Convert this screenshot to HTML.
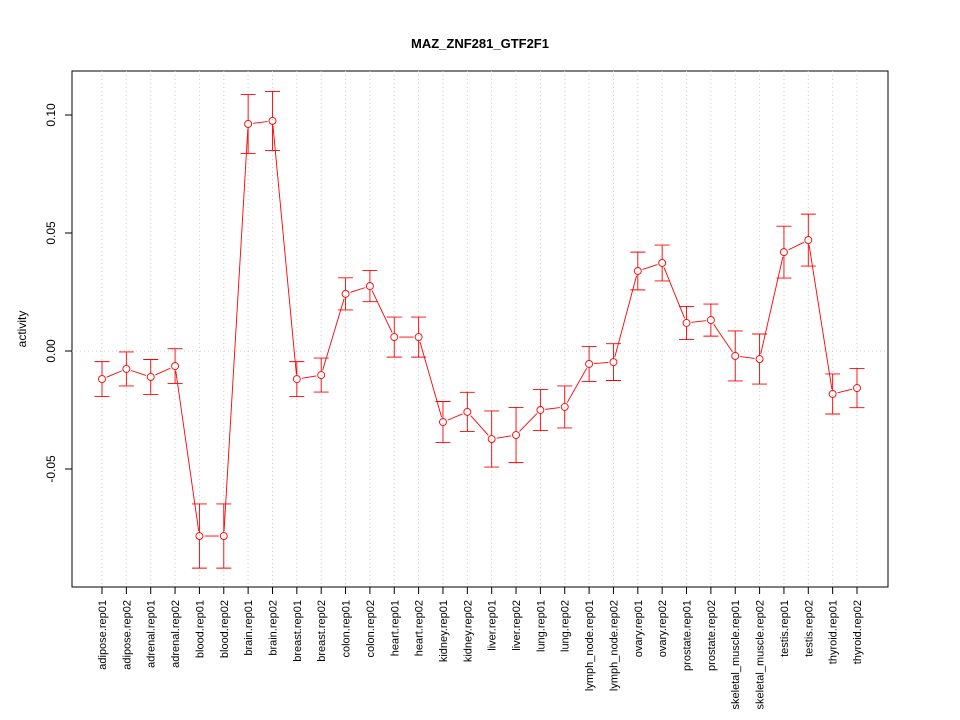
<!DOCTYPE html>
<html><head><meta charset="utf-8"><style>
body{margin:0;background:#fff;}
svg{display:block;font-family:"Liberation Sans",Arial,sans-serif;}
</style></head><body>
<svg id="chart" width="960" height="720">
<text x="480" y="48" text-anchor="middle" font-size="13" font-weight="bold">MAZ_ZNF281_GTF2F1</text>
<rect x="72" y="71" width="816" height="516" fill="none" stroke="#000"/>
<text transform="translate(26,329) rotate(-90)" text-anchor="middle" font-size="12">activity</text>
<g id="grid"></g><g id="axes"></g><g id="series"></g>
</svg>
<script>
const categories=["adipose.rep01","adipose.rep02","adrenal.rep01","adrenal.rep02","blood.rep01","blood.rep02","brain.rep01","brain.rep02","breast.rep01","breast.rep02","colon.rep01","colon.rep02","heart.rep01","heart.rep02","kidney.rep01","kidney.rep02","liver.rep01","liver.rep02","lung.rep01","lung.rep02","lymph_node.rep01","lymph_node.rep02","ovary.rep01","ovary.rep02","prostate.rep01","prostate.rep02","skeletal_muscle.rep01","skeletal_muscle.rep02","testis.rep01","testis.rep02","thyroid.rep01","thyroid.rep02"];
const values=[-0.0119,-0.0076,-0.011,-0.0064,-0.0784,-0.0784,0.0962,0.0975,-0.0119,-0.0102,0.0242,0.0275,0.0059,0.0059,-0.0301,-0.0258,-0.0373,-0.0356,-0.025,-0.0237,-0.0055,-0.0047,0.0339,0.0373,0.0119,0.0131,-0.0021,-0.0034,0.0419,0.047,-0.0182,-0.0157];
const errs=[0.0074,0.0072,0.0074,0.0074,0.0136,0.0136,0.0125,0.0125,0.0074,0.0072,0.0068,0.0066,0.0085,0.0085,0.0087,0.0083,0.0119,0.0117,0.0087,0.0089,0.0074,0.0078,0.008,0.0076,0.007,0.0068,0.0106,0.0106,0.011,0.011,0.0085,0.0083];
const yTicks=[-0.05,0,0.05,0.1];
const yTickLabels=["-0.05","0.00","0.05","0.10"];
const NS="http://www.w3.org/2000/svg";
const x=i=>102+i*(857-102)/(categories.length-1);
const y=v=>351-v*2360;
function mk(tag,attrs,parent,txt){const e=document.createElementNS(NS,tag);for(const k in attrs)e.setAttribute(k,attrs[k]);if(txt!=null)e.textContent=txt;document.getElementById(parent).appendChild(e);return e;}
let g0=mk('line',{x1:72,x2:888,y1:y(0),y2:y(0),stroke:'#ccc','stroke-dasharray':'1,3'},'grid');


yTicks.forEach((t,i)=>{
  let tk=mk('line',{x1:65,x2:72,y1:y(t),y2:y(t),stroke:'#000'},'axes');
  
  
  let lb=mk('text',{transform:`translate(55,${y(t)}) rotate(-90)`,'text-anchor':'middle','font-size':12},'axes',yTickLabels[i]);
  
  
});
categories.forEach((c,i)=>{
  let g=mk('line',{x1:x(i),x2:x(i),y1:71,y2:587,stroke:'#ccc','stroke-dasharray':'1,3'},'grid');
  
  
  let tk=mk('line',{x1:x(i),x2:x(i),y1:587,y2:594,stroke:'#000'},'axes');
  
  
  let lb=mk('text',{transform:`translate(${x(i)+4},600) rotate(-90)`,'text-anchor':'end','font-size':11},'axes',c);
  
  
});
const gap=5;
for(let i=0;i<values.length-1;i++){
  const x1=x(i),y1=y(values[i]),x2=x(i+1),y2=y(values[i+1]);
  const d=Math.hypot(x2-x1,y2-y1);
  if(d<=2*gap) continue;
  const ux=(x2-x1)/d,uy=(y2-y1)/d;
  let s=mk('line',{x1:x1+ux*gap,y1:y1+uy*gap,x2:x2-ux*gap,y2:y2-uy*gap,stroke:'#ff0000','stroke-width':0.9},'series');
  
  
}
values.forEach((v,i)=>{
  const cx=x(i),cy=y(v),t=y(v+errs[i]),b=y(v-errs[i]);
  let e=mk('path',{d:`M${cx},${t}V${cy-3.5}M${cx},${cy+3.5}V${b}M${cx-7.5},${t}H${cx+7.5}M${cx-7.5},${b}H${cx+7.5}`,stroke:'#ff0000','stroke-width':0.9,fill:'none'},'series');
  
  
  let p=mk('circle',{cx:cx,cy:cy,r:3.5,fill:'none',stroke:'#ff0000','stroke-width':0.9},'series');
  
  
});
</script>
</body></html>
